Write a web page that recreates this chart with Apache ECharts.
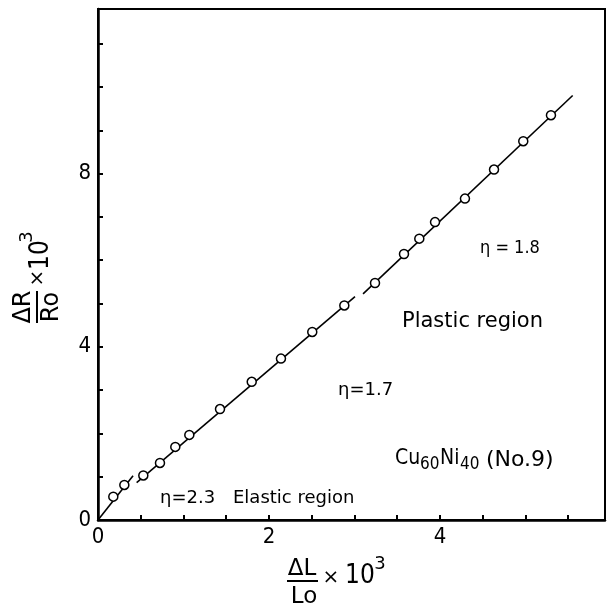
<!DOCTYPE html>
<html>
<head>
<meta charset="utf-8">
<script src="https://cdn.jsdelivr.net/npm/echarts@6/dist/echarts.min.js"></script>
<style>
  html, body { margin: 0; padding: 0; background: #fff; }
  #chart { width: 609px; height: 610px; }
</style>
</head>
<body>
<div id="chart"></div>
<script>
// ---- data ----
const strainX = [0.179, 0.308, 0.530, 0.725, 0.904, 1.068, 1.427, 1.798, 2.140, 2.506, 2.881, 3.240, 3.579, 3.758, 3.942, 4.292, 4.632, 4.974, 5.298];
const resistY = [0.539, 0.809, 1.029, 1.318, 1.688, 1.965, 2.562, 3.191, 3.727, 4.342, 4.955, 5.473, 6.143, 6.497, 6.879, 7.422, 8.092, 8.747, 9.348];
// fitted straight lines (end points)
const elasticFitX = [0, 0.41];
const elasticFitY = [0, 1.02];
const plastic1FitX = [0.452, 3.006];
const plastic1FitY = [0.862, 5.156];
const plastic2FitX = [3.10, 5.552];
const plastic2FitY = [5.22, 9.803];
const xTickLabels = [0, 2, 4];
const yTickLabels = [0, 4, 8];

const FONT = '"DejaVu Sans", "Liberation Sans", sans-serif';
const FONTC = '"DejaVu Sans Condensed", "DejaVu Sans", sans-serif';
const zip = (a, b) => a.map((v, i) => [v, b[i]]);

const chart = echarts.init(document.getElementById('chart'), null, { renderer: 'canvas' });

function txt(x, y, text, size, align, fam) {
  return {
    type: 'text', x: x, y: y, z: 10,
    style: { text: text, fill: '#000', fontSize: size, fontFamily: fam || FONT,
             align: align || 'left', verticalAlign: 'middle' }
  };
}

const lineStyle = { color: '#000', width: 1.6 };

const option = {
  animation: false,
  backgroundColor: '#fff',
  grid: { left: 98, right: 4, top: 9, bottom: 90, show: true, borderColor: '#000', borderWidth: 2, backgroundColor: 'transparent' },
  xAxis: {
    type: 'value', min: 0, max: 5.93, interval: 0.5,
    axisLine: { show: true, onZero: false, lineStyle: { color: '#000', width: 2.5 } },
    axisTick: { show: true, inside: true, length: 5, lineStyle: { color: '#000', width: 2 } },
    splitLine: { show: false },
    axisLabel: {
      color: '#000', fontSize: 22, fontFamily: FONTC, margin: 6,
      formatter: v => xTickLabels.some(t => Math.abs(t - v) < 1e-6) ? String(v) : ''
    }
  },
  yAxis: {
    type: 'value', min: 0, max: 11.8, interval: 1,
    axisLine: { show: true, onZero: false, lineStyle: { color: '#000', width: 2.5 } },
    axisTick: { show: true, inside: true, length: 5, lineStyle: { color: '#000', width: 2 } },
    splitLine: { show: false },
    axisLabel: {
      color: '#000', fontSize: 22, fontFamily: FONTC, margin: 7,
      formatter: v => yTickLabels.some(t => Math.abs(t - v) < 1e-6) ? String(v) : ''
    }
  },
  series: [
    { type: 'line', data: zip(elasticFitX, elasticFitY), showSymbol: false, symbol: 'none', lineStyle: lineStyle, z: 2 },
    { type: 'line', data: zip(plastic1FitX, plastic1FitY), showSymbol: false, symbol: 'none', lineStyle: lineStyle, z: 2 },
    { type: 'line', data: zip(plastic2FitX, plastic2FitY), showSymbol: false, symbol: 'none', lineStyle: lineStyle, z: 2 },
    {
      type: 'scatter', data: zip(strainX, resistY), symbol: 'circle', symbolSize: 9, z: 5,
      itemStyle: { color: '#fff', borderColor: '#000', borderWidth: 1.5, opacity: 1 }
    }
  ],
  graphic: [
    // y axis title (rotated fraction)
    {
      type: 'group', x: 37, y: 307, rotation: Math.PI / 2,
      children: [
        { type: 'line', shape: { x1: -16, y1: 0, x2: 16, y2: 0 }, style: { stroke: '#000', lineWidth: 2 } },
        txt(0, -13, 'ΔR', 24, 'center'),
        txt(0, 15, 'Ro', 24, 'center'),
        txt(29, 1, '×', 20, 'center'),
        txt(52, 4, '10', 26, 'center', FONTC),
        txt(70, -10, '3', 18, 'center')
      ]
    },
    // x axis title
    { type: 'line', shape: { x1: 287, y1: 581, x2: 318, y2: 581 }, style: { stroke: '#000', lineWidth: 2 } },
    txt(302, 569, 'ΔL', 23, 'center'),
    txt(304, 597, 'Lo', 23, 'center'),
    txt(331, 578, '×', 20, 'center'),
    txt(360, 576, '10', 26, 'center', FONTC),
    txt(380, 564, '3', 18, 'center'),
    // annotations
    txt(160, 498, 'η=2.3', 18),
    txt(233, 498, 'Elastic region', 18),
    txt(338, 390, 'η=1.7', 18),
    txt(402, 322, 'Plastic region', 21),
    txt(480, 248, 'η = 1.8', 18, 'left', FONTC),
    txt(395, 459, 'Cu', 21, 'left', FONTC),
    txt(420, 465, '60', 17, 'left', FONTC),
    txt(440, 459, 'Ni', 21, 'left', FONTC),
    txt(460, 465, '40', 17, 'left', FONTC),
    txt(486, 460, '(No.9)', 22, 'left', FONT)
  ]
};

chart.setOption(option);
</script>
</body>
</html>
